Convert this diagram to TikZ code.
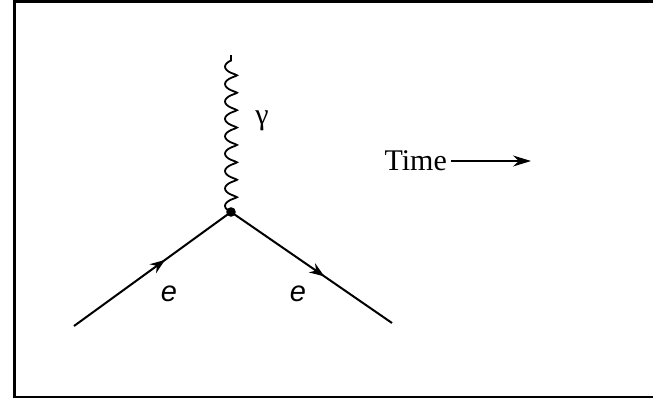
\documentclass[tikz,border=0pt]{standalone}
\usepackage{fontspec}
\setmainfont{Liberation Serif}
\newfontfamily\lblfont{Liberation Sans}
\usetikzlibrary{decorations.markings,decorations.pathmorphing,arrows.meta}
\begin{document}
\begin{tikzpicture}[x=1pt,y=-1pt,
  fermion/.style={line width=2pt,
    postaction={decorate,decoration={markings,
      mark=at position #1 with {\arrow{Stealth[length=15pt,width=11pt]}}}}},
  photon/.style={line width=1.8pt,decorate,
    decoration={coil,aspect=0.3,segment length=17.4pt,amplitude=6pt}},
  frameline/.style={line width=2.4pt},
  lbl/.style={font=\lblfont\itshape\fontsize{29}{29}\selectfont,inner sep=0pt}]
\useasboundingbox (0,0) rectangle (653,400);
\draw[frameline] (655,1.5) -- (14.5,1.5) -- (14.5,397) -- (655,397);
\coordinate (v) at (231,212);
\coordinate (a) at (74,326);
\coordinate (b) at (392,323);
\coordinate (p) at (231,55);
\draw[photon] (v) -- (p);
\draw[fermion=0.58] (a) -- (v);
\draw[fermion=0.58] (v) -- (b);
\fill (v) circle (4.8pt);
\node[lbl] (e1) at (169,294) {e};
\node[lbl] (e2) at (298,294) {e};
\node[inner sep=0pt,font=\fontsize{30}{30}\selectfont] (g) at (262,121) {γ};
\node[inner sep=0pt,font=\fontsize{30}{30}\selectfont,anchor=east] (t) at (447,161) {Time};
\coordinate (tend) at (531,161);
\draw[line width=1.5pt,-{Stealth[length=18pt,width=11pt]}] ([xshift=4pt]t.east) -- (tend);
\end{tikzpicture}
\end{document}
